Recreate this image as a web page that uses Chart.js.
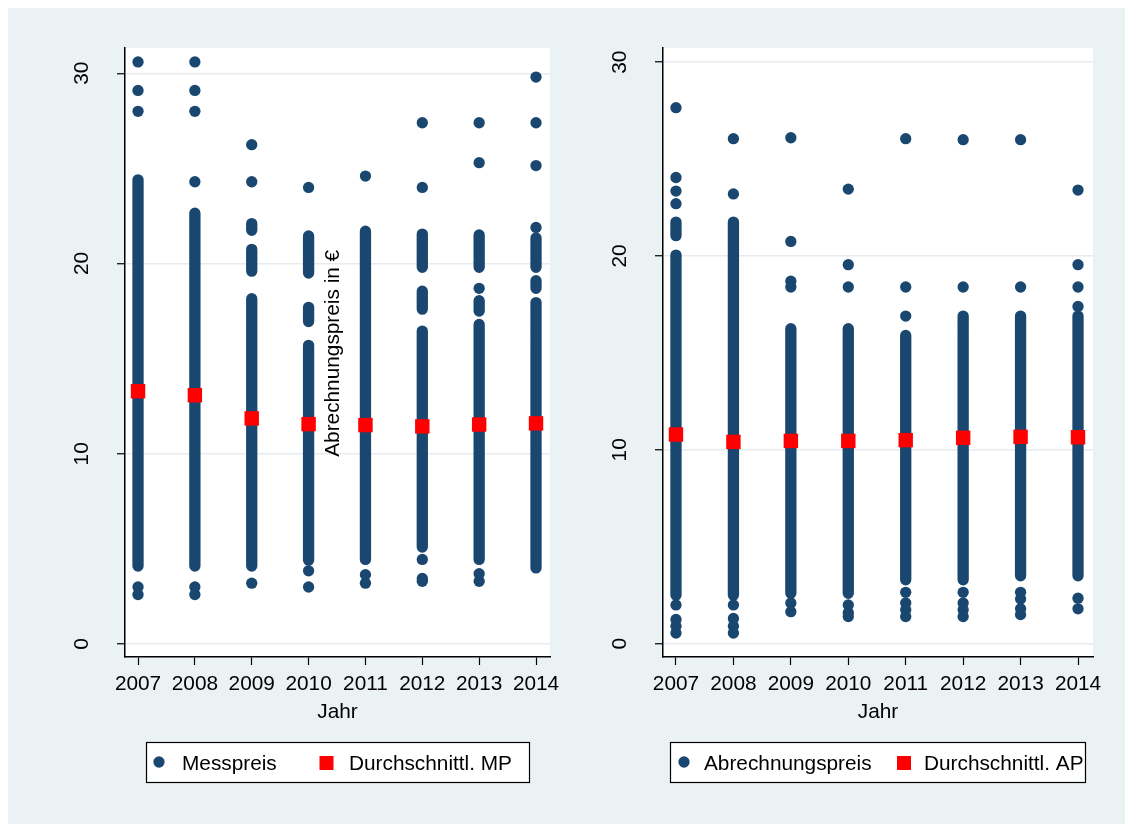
<!DOCTYPE html>
<html>
<head>
<meta charset="utf-8">
<script src="https://cdn.jsdelivr.net/npm/chart.js@4.4.1/dist/chart.umd.min.js"></script>
<style>
  body { margin: 0; background: #fff; }
  #frame { position: absolute; left: 8px; top: 8px; width: 1117px; height: 816px; background: #EAF2F3; }
  canvas { position: absolute; top: 0; }
  #left { left: 0; }
  #right { left: 562px; }
</style>
</head>
<body>
<div id="frame"></div>
<canvas id="left" width="562" height="824" style="width:562px;height:824px"></canvas>
<canvas id="right" width="563" height="824" style="width:563px;height:824px"></canvas>
<script>
const years = [2007, 2008, 2009, 2010, 2011, 2012, 2013, 2014];
const yTicks = [0, 10, 20, 30];

// Messpreis: stretches where the dots run into a solid column [low, high]
const mpBands = [
  [[4.1, 24.4]],
  [[4.1, 22.65]],
  [[4.1, 18.15], [19.6, 20.75], [21.75, 22.1]],
  [[4.4, 15.7], [16.95, 17.7], [19.5, 21.45]],
  [[4.45, 21.7]],
  [[5.1, 16.45], [17.6, 18.55], [19.8, 21.55]],
  [[4.45, 16.8], [17.5, 18.05], [19.8, 21.5]],
  [[4.0, 17.95], [18.7, 19.1], [19.8, 21.35]]
];
// Messpreis: single dots outside the columns
const mpDots = [
  [30.6, 29.1, 28.0, 3.0, 2.6],
  [30.6, 29.1, 28.0, 24.3, 3.0, 2.6],
  [26.25, 24.3, 3.2],
  [24.0, 3.85, 3.0],
  [24.6, 3.65, 3.2],
  [27.4, 24.0, 4.45, 3.45, 3.3],
  [27.4, 25.3, 18.7, 3.7, 3.3],
  [29.8, 27.4, 25.15, 21.9]
];
const mpMean = [13.29, 13.08, 11.86, 11.56, 11.51, 11.44, 11.54, 11.6];

// Abrechnungspreis
const apBands = [
  [[2.5, 20.05], [21.05, 21.75]],
  [[2.5, 21.75]],
  [[2.6, 16.25]],
  [[2.6, 16.25]],
  [[3.3, 15.9]],
  [[3.3, 16.9]],
  [[3.5, 16.9]],
  [[3.5, 16.9]]
];
const apDots = [
  [27.65, 24.05, 23.35, 22.7, 2.0, 1.25, 0.9, 0.55],
  [26.05, 23.2, 2.0, 1.3, 0.9, 0.55],
  [26.1, 20.75, 18.7, 18.4, 2.1, 1.65],
  [23.45, 19.55, 18.4, 2.0, 1.6, 1.4],
  [26.05, 18.4, 16.9, 2.65, 2.1, 1.75, 1.4],
  [26.0, 18.4, 2.65, 2.1, 1.75, 1.4],
  [26.0, 18.4, 2.65, 2.3, 1.8, 1.5],
  [23.4, 19.55, 18.4, 17.4, 2.35, 1.8]
];
const apMean = [10.79, 10.41, 10.46, 10.46, 10.5, 10.62, 10.67, 10.65];

const NAVY = '#1A476F';
const RED = '#FF0000';
const GRID = '#E4ECEF';
const FONT = '20.8px "Liberation Sans", Arial, sans-serif';
const DOT_R = 5.65;

function bandPoints(bands) {
  const pts = [];
  bands.forEach((list, i) => list.forEach(([lo, hi]) => {
    pts.push({x: years[i], y: lo}, {x: years[i], y: hi}, {x: years[i], y: null});
  }));
  return pts;
}

function dotPoints(dots) {
  const pts = [];
  dots.forEach((list, i) => list.forEach(v => pts.push({x: years[i], y: v})));
  return pts;
}

const stataPlugin = {
  id: 'stata',
  beforeDraw(chart) {
    const {ctx, chartArea: a} = chart;
    ctx.save();
    ctx.fillStyle = '#fff';
    ctx.fillRect(a.left, a.top, a.right - a.left, a.bottom - a.top);
    ctx.restore();
  },
  afterDraw(chart) {
    const o = chart.options.plugins.stata;
    const {ctx, chartArea: a} = chart;
    const xs = chart.scales.x, ys = chart.scales.y;
    ctx.save();
    ctx.fillStyle = '#000';
    ctx.font = FONT;

    // y tick labels, turned like Stata
    ctx.textAlign = 'center';
    ctx.textBaseline = 'middle';
    yTicks.forEach(v => {
      ctx.save();
      ctx.translate(a.left - 42.5, ys.getPixelForValue(v));
      ctx.rotate(-Math.PI / 2);
      ctx.fillText(String(v), 0, 0);
      ctx.restore();
    });

    // x tick labels and title
    ctx.textBaseline = 'alphabetic';
    years.forEach(v => ctx.fillText(String(v), xs.getPixelForValue(v), 690));
    ctx.fillText('Jahr', (a.left + a.right) / 2, 717.5);

    // stray y title (as in the original combined graph)
    if (o.yTitle) {
      ctx.save();
      ctx.translate(o.yTitle.x, o.yTitle.y);
      ctx.rotate(-Math.PI / 2);
      ctx.textAlign = 'center';
      ctx.fillText(o.yTitle.text, 0, 0);
      ctx.restore();
    }

    // legend
    const L = o.legend;
    ctx.fillStyle = '#fff';
    ctx.fillRect(L.box[0], L.box[1], L.box[2] - L.box[0], L.box[3] - L.box[1]);
    ctx.save();
    ctx.beginPath();
    ctx.rect(L.box[0], L.box[1], L.box[2] - L.box[0], L.box[3] - L.box[1]);
    ctx.clip();
    ctx.fillStyle = NAVY;
    ctx.beginPath();
    ctx.arc(L.circle, 762, DOT_R, 0, Math.PI * 2);
    ctx.fill();
    ctx.fillStyle = RED;
    ctx.fillRect(L.square - 7, 756, 14, 14);
    ctx.fillStyle = '#000';
    ctx.textAlign = 'left';
    ctx.fillText(L.labels[0], L.text1, 770);
    ctx.fillText(L.labels[1], L.text2, 770);
    ctx.restore();
    ctx.strokeStyle = '#000';
    ctx.lineWidth = 1.2;
    ctx.strokeRect(L.box[0] + 0.5, L.box[1] + 0.5, L.box[2] - L.box[0], L.box[3] - L.box[1]);
    ctx.restore();
  }
};

function makeChart(id, cfg) {
  const canvas = document.getElementById(id);
  return new Chart(canvas, {
    type: 'scatter',
    data: {
      datasets: [
        {
          label: cfg.meanLabel,
          data: cfg.mean.map((v, i) => ({x: years[i], y: v})),
          pointStyle: 'rect',
          pointRadius: 10.2,
          backgroundColor: RED,
          borderWidth: 0
        },
        {
          label: cfg.label,
          data: dotPoints(cfg.dots),
          pointStyle: 'circle',
          pointRadius: DOT_R,
          backgroundColor: NAVY,
          borderWidth: 0
        },
        {
          type: 'line',
          label: cfg.label + ' (dicht)',
          data: bandPoints(cfg.bands),
          borderColor: NAVY,
          borderWidth: DOT_R * 2,
          borderCapStyle: 'round',
          borderJoinStyle: 'round',
          pointRadius: 0,
          spanGaps: false,
          fill: false
        }
      ]
    },
    options: {
      responsive: false,
      animation: false,
      events: [],
      layout: {padding: {left: 0, top: 48, right: canvas.width - cfg.right, bottom: 824 - 657 - 60}},
      plugins: {
        legend: {display: false},
        tooltip: {enabled: false},
        stata: {legend: cfg.legend, yTitle: cfg.yTitle}
      },
      scales: {
        x: {
          type: 'linear',
          min: cfg.xMin,
          max: cfg.xMax,
          afterBuildTicks: s => { s.ticks = years.map(v => ({value: v})); },
          afterFit: s => { s.height = 60; },
          ticks: {display: false},
          grid: {drawOnChartArea: false, tickLength: 8, tickColor: '#000', tickWidth: 1.2},
          border: {color: '#000', width: 1.5}
        },
        y: {
          type: 'linear',
          min: cfg.yMin,
          max: cfg.yMax,
          afterBuildTicks: s => { s.ticks = yTicks.map(v => ({value: v})); },
          afterFit: s => { s.width = cfg.left; },
          ticks: {display: false},
          grid: {color: GRID, lineWidth: 1.5, tickLength: 8, tickColor: '#000', tickWidth: 1.2},
          border: {color: '#000', width: 1.5}
        }
      }
    },
    plugins: [stataPlugin]
  });
}

makeChart('left', {
  label: 'Messpreis', meanLabel: 'Durchschnittl. MP',
  bands: mpBands, dots: mpDots, mean: mpMean,
  left: 125, right: 550,
  xMin: 2006.771, xMax: 2014.246, yMin: -0.68, yMax: 31.33,
  yTitle: {text: 'Abrechnungspreis in €', x: 338.5, y: 353.3},
  legend: {box: [146, 742, 529, 782], circle: 159, square: 326.5, text1: 182, text2: 349,
           labels: ['Messpreis', 'Durchschnittl. MP']}
});

makeChart('right', {
  label: 'Abrechnungspreis', meanLabel: 'Durchschnittl. AP',
  bands: apBands, dots: apDots, mean: apMean,
  left: 101, right: 531,
  xMin: 2006.774, xMax: 2014.261, yMin: -0.686, yMax: 30.73,
  yTitle: null,
  legend: {box: [108, 742, 523, 782], circle: 122, square: 342, text1: 142, text2: 362,
           labels: ['Abrechnungspreis', 'Durchschnittl. AP']}
});
</script>
</body>
</html>
